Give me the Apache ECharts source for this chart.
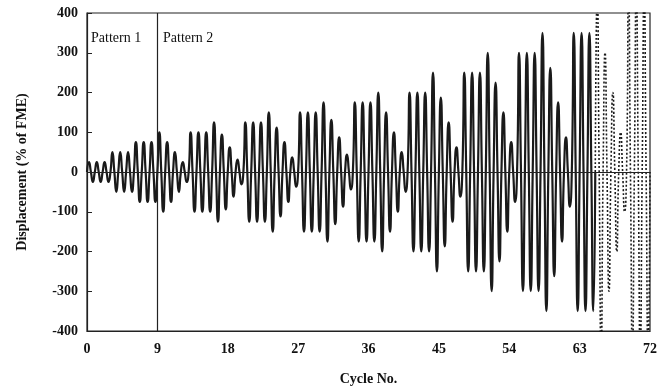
<!DOCTYPE html>
<html>
<head>
<meta charset="utf-8">
<script src="https://cdn.jsdelivr.net/npm/echarts@6/dist/echarts.min.js"></script>
<style>
  html, body { margin: 0; padding: 0; background: #fff; }
  #chart { width: 664px; height: 387px; }
</style>
</head>
<body>
<div id="chart"></div>
<script>
// peak amplitude (% of FME) of each cycle
// cycles 0..64, solid trace
var solidAmps = [
  25, 25, 25, 50, 50, 50, 75, 75, 75,          // pattern 1
  100, 75, 50, 25,
  100, 100, 100, 125, 94, 62, 31,
  125, 125, 125, 150, 112, 75, 37,
  150, 150, 150, 175, 131, 87, 44,
  175, 175, 175, 200, 150, 100, 50,
  200, 200, 200, 250, 187, 125, 62,
  250, 250, 250, 300, 225, 150, 75,
  300, 300, 300, 350, 262, 175, 87,
  350, 350, 350
];
// cycles 65..71, dotted trace (off-scale ones clipped at 400)
var dottedAmps = [450, 300, 200, 100, 450, 450, 450];
var dottedStart = 65;
var patternLine = 9;
var xTicks = [0, 9, 18, 27, 36, 45, 54, 63, 72];
var yTicks = [-400, -300, -200, -100, 0, 100, 200, 300, 400];

// each cycle: zero, +peak, zero, -peak
function cyclePoints(amps, start) {
  var pts = [];
  amps.forEach(function(a, i) {
    var k = start + i;
    pts.push([k, 0], [k + 0.25, a], [k + 0.5, 0], [k + 0.75, -a]);
  });
  pts.push([start + amps.length, 0]);
  return pts;
}

var chart = echarts.init(document.getElementById("chart"));
var serif = "Liberation Serif";

var option = {
  animation: false,
  backgroundColor: "#fff",
  grid: {
    left: 87,
    right: 14,
    top: 13,
    bottom: 56,
    outerBoundsMode: "none",
    show: true,
    borderColor: "#222",
    borderWidth: 1.2
  },
  xAxis: {
    type: "value",
    min: xTicks[0],
    max: xTicks[xTicks.length - 1],
    interval: 9,
    name: "Cycle No.",
    nameLocation: "middle",
    nameGap: 41,
    nameTextStyle: { fontFamily: serif, fontWeight: "bold", fontSize: 14, color: "#111" },
    axisLine: { show: true, onZero: false, lineStyle: { color: "#222", width: 1.2 } },
    axisTick: { show: false },
    axisLabel: { fontFamily: serif, fontWeight: "bold", fontSize: 14, color: "#111", margin: 11 },
    splitLine: { show: false }
  },
  yAxis: {
    type: "value",
    min: yTicks[0],
    max: yTicks[yTicks.length - 1],
    interval: 100,
    name: "Displacement (% of FME)",
    nameLocation: "middle",
    nameGap: 58,
    nameTextStyle: { fontFamily: serif, fontWeight: "bold", fontSize: 14, color: "#111" },
    axisLine: { show: true, lineStyle: { color: "#222", width: 1.2 } },
    axisTick: { show: true, inside: true, length: 5, lineStyle: { color: "#222" } },
    axisLabel: { fontFamily: serif, fontWeight: "bold", fontSize: 14, color: "#111", margin: 9 },
    splitLine: { show: false }
  },
  series: [
    {
      name: "solid",
      type: "line",
      data: cyclePoints(solidAmps, 0),
      smooth: 0.6,
      showSymbol: false,
      lineStyle: { color: "#1a1a1a", width: 2.2 },
      markLine: {
        silent: true,
        symbol: "none",
        label: { show: false },
        lineStyle: { color: "#222", width: 1.2, type: "solid" },
        data: [{ yAxis: 0 }, { xAxis: patternLine }]
      },
      z: 3
    },
    {
      name: "dotted",
      type: "line",
      data: cyclePoints(dottedAmps, dottedStart),
      smooth: 0.6,
      showSymbol: false,
      lineStyle: { color: "#1a1a1a", width: 1.6, type: [2, 2] },
      z: 3
    }
  ],
  graphic: [
    {
      type: "text",
      left: 91,
      top: 31,
      style: { text: "Pattern 1", fontFamily: serif, fontSize: 14, fill: "#111" }
    },
    {
      type: "text",
      left: 163,
      top: 31,
      style: { text: "Pattern 2", fontFamily: serif, fontSize: 14, fill: "#111" }
    }
  ]
};

chart.setOption(option);
</script>
</body>
</html>
